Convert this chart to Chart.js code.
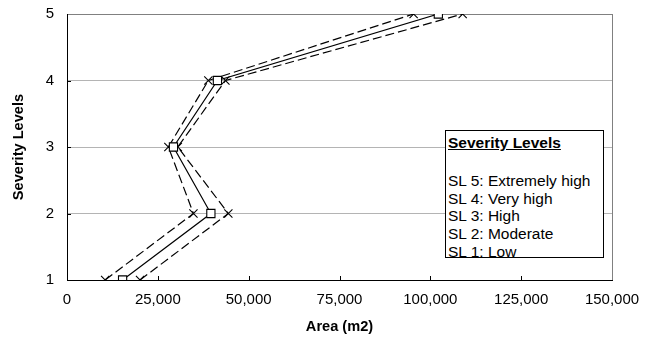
<!DOCTYPE html>
<html>
<head>
<meta charset="utf-8">
<script src="https://cdn.jsdelivr.net/npm/chart.js@4/dist/chart.umd.min.js"></script>
<style>
  body { margin: 0; background: #fff; }
  #wrap { position: relative; width: 654px; height: 340px; }
  #key {
    position: absolute; left: 445px; top: 130px; width: 153px; height: 123px;
    border: 1px solid #000; background: #fff; overflow: hidden;
    padding: 3px 2px 0 2px;
    font-family: "Liberation Sans", Arial, sans-serif; font-size: 15.5px; line-height: 17.8px; color: #000;
  }
  #key .ttl { font-weight: bold; text-decoration: underline; }
  #key .gap { height: 20px; }
</style>
</head>
<body>
<div id="wrap">
  <canvas id="c" width="654" height="340"></canvas>
  <div id="key">
    <div class="ttl">Severity Levels</div>
    <div class="gap"></div>
    <div>SL 5: Extremely high</div>
    <div>SL 4: Very high</div>
    <div>SL 3: High</div>
    <div>SL 2: Moderate</div>
    <div>SL 1: Low</div>
  </div>
</div>
<script>
// severity level on y, affected area on x
const levels = [1, 2, 3, 4, 5];
const meanArea  = [15300, 39600, 29300, 41400, 102200];
const lowArea   = [10500, 34800, 27900, 38900, 95400];
const highArea  = [20100, 44400, 30500, 43600, 108900];

const FONT = '"Liberation Sans", Arial, sans-serif';

function pts(areas) {
  return areas.map((a, i) => ({x: a, y: levels[i]}));
}

// short tick marks pointing into the plot area
const innerTicks = {
  id: 'innerTicks',
  beforeDatasetsDraw(chart) {
    const {ctx, chartArea, scales} = chart;
    ctx.save();
    ctx.strokeStyle = '#000';
    ctx.lineWidth = 1;
    ctx.beginPath();
    scales.x.ticks.forEach(t => {
      if (t.value <= 0 || t.value >= 150000) return;
      const x = Math.round(scales.x.getPixelForValue(t.value)) + 0.5;
      ctx.moveTo(x, chartArea.bottom);
      ctx.lineTo(x, chartArea.bottom - 4);
    });
    scales.y.ticks.forEach(t => {
      if (t.value <= 1 || t.value >= 5) return;
      const y = Math.round(scales.y.getPixelForValue(t.value)) + 0.5;
      ctx.moveTo(chartArea.left, y);
      ctx.lineTo(chartArea.left + 4, y);
    });
    ctx.stroke();
    ctx.restore();
  }
};

const common = {
  showLine: true,
  borderColor: '#000',
  borderWidth: 1.2,
  pointBorderColor: '#000',
  pointBorderWidth: 1.1,
  pointBackgroundColor: '#fff',
  tension: 0
};

new Chart(document.getElementById('c'), {
  type: 'scatter',
  data: {
    datasets: [
      Object.assign({label: 'Mean', data: pts(meanArea), pointStyle: 'rect', pointRadius: 5.8}, common),
      Object.assign({label: 'Lower', data: pts(lowArea), pointStyle: 'crossRot', pointRadius: 5.8, borderDash: [9, 4]}, common),
      Object.assign({label: 'Upper', data: pts(highArea), pointStyle: 'crossRot', pointRadius: 5.8, borderDash: [9, 4]}, common)
    ]
  },
  options: {
    responsive: false,
    animation: false,
    events: [],
    layout: {padding: {left: 0, top: 14, right: 42, bottom: 0}},
    plugins: {legend: {display: false}, tooltip: {enabled: false}},
    scales: {
      x: {
        type: 'linear',
        min: 0, max: 150000,
        afterFit: s => { s.height = 60; s.paddingLeft = 0; s.paddingRight = 0; },
        border: {color: '#000', width: 1},
        grid: {
          drawTicks: false,
          color: c => (c.tick && c.tick.value === 150000) ? '#808080' : 'rgba(0,0,0,0)'
        },
        ticks: {
          stepSize: 25000,
          padding: 10.5,
          color: '#000',
          font: {family: FONT, size: 15},
          callback: v => v.toLocaleString('en-US')
        },
        title: {
          display: true, text: 'Area (m2)', color: '#000',
          font: {family: FONT, size: 14.6, weight: 'bold'},
          padding: {top: 0, bottom: 4}
        }
      },
      y: {
        type: 'linear',
        min: 1, max: 5,
        afterFit: s => { s.width = 67; s.paddingTop = 0; s.paddingBottom = 0; },
        border: {color: '#000', width: 1},
        grid: {
          drawTicks: false,
          color: c => {
            const v = c.tick && c.tick.value;
            if (v === 5) return '#808080';
            if (v === 1) return 'rgba(0,0,0,0)';
            return '#b4b4b4';
          }
        },
        ticks: {
          stepSize: 1,
          padding: 13,
          color: '#000',
          font: {family: FONT, size: 15}
        },
        title: {
          display: true, text: 'Severity Levels', color: '#000',
          font: {family: FONT, size: 14.6, weight: 'bold'},
          padding: {top: 10, bottom: 0}
        }
      }
    }
  },
  plugins: [innerTicks]
});
</script>
</body>
</html>
